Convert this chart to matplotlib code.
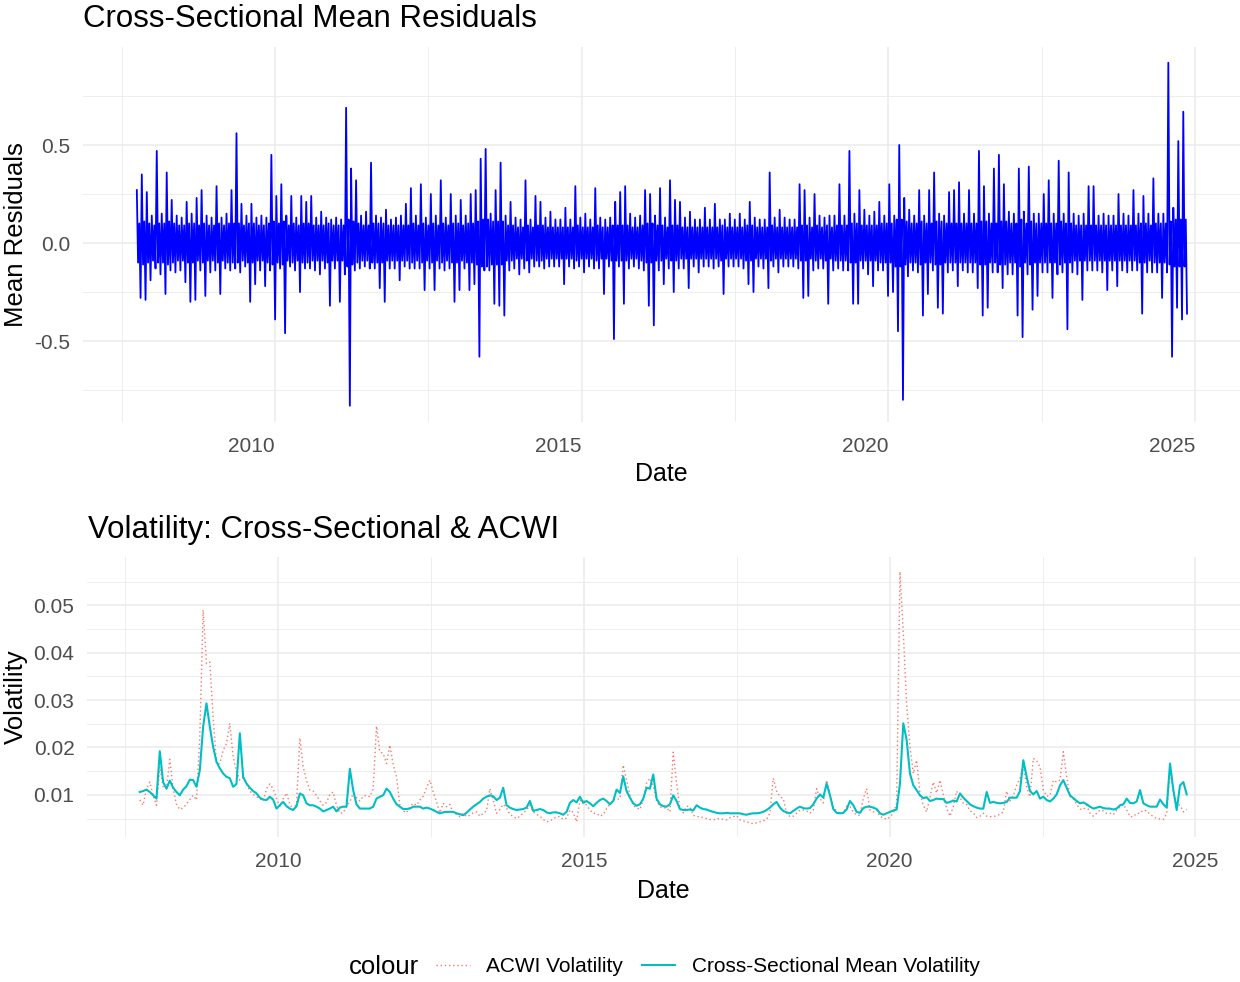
import matplotlib
matplotlib.use("Agg")
import matplotlib.pyplot as plt
import matplotlib.dates as mdates
from matplotlib.lines import Line2D
from matplotlib.ticker import FixedLocator
import numpy as np
import pandas as pd
import datetime as dt

plt.rcParams['font.family'] = ['Liberation Sans', 'DejaVu Sans']

# ---------------- data ----------------
# Cross-sectional mean residuals, read per ~5px column:
# high excursion, low excursion and half-width of the solid core band
resid_hi = [
    .27, .35, .26, .14, .47, .15, .36, .22, .14, .13,
    .21, .15, .23, .27, .14, .13, .29, .13, .15, .27,
    .56, .20, .14, .20, .13, .14, .13, .45, .24, .30,
    .14, .24, .13, .24, .21, .24, .13, .16, .13, .12,
    .13, .12, .69, .38, .32, .14, .16, .41, .14, .13,
    .17, .12, .13, .14, .20, .28, .14, .30, .13, .25,
    .14, .32, .13, .25, .14, .22, .14, .25, .27, .43,
    .48, .15, .27, .41, .14, .21, .13, .12, .32, .12,
    .24, .21, .13, .16, .12, .12, .18, .12, .29, .13,
    .15, .12, .28, .13, .12, .13, .21, .26, .29, .15,
    .13, .14, .27, .25, .14, .28, .13, .32, .22, .21,
    .13, .16, .12, .12, .18, .12, .20, .12, .12, .15,
    .12, .15, .12, .21, .13, .12, .12, .36, .13, .17,
    .13, .12, .12, .30, .27, .13, .25, .14, .13, .14,
    .14, .30, .14, .47, .15, .27, .17, .14, .16, .21,
    .14, .30, .14, .50, .23, .17, .14, .27, .14, .27,
    .36, .15, .14, .26, .27, .31, .15, .27, .15, .47,
    .29, .15, .38, .45, .30, .16, .15, .38, .16, .39,
    .15, .15, .25, .32, .15, .42, .15, .36, .15, .14,
    .15, .29, .29, .14, .15, .14, .14, .25, .15, .14,
    .27, .15, .24, .15, .33, .15, .15, .92, .18, .52,
    .67,
]
resid_lo = [
    -.28, -.29, -.19, -.13, -.16, -.26, -.14, -.15, -.14, -.20,
    -.30, -.29, -.14, -.27, -.15, -.14, -.26, -.13, -.14, -.13,
    -.15, -.12, -.30, -.21, -.14, -.22, -.14, -.39, -.13, -.46,
    -.12, -.14, -.25, -.13, -.13, -.14, -.16, -.13, -.32, -.13,
    -.30, -.16, -.83, -.14, -.13, -.12, -.13, -.13, -.23, -.30,
    -.13, -.13, -.19, -.12, -.13, -.13, -.13, -.24, -.13, -.24,
    -.13, -.14, -.13, -.30, -.24, -.13, -.24, -.21, -.58, -.14,
    -.14, -.31, -.32, -.37, -.14, -.13, -.16, -.13, -.15, -.12,
    -.12, -.13, -.12, -.12, -.12, -.21, -.12, -.13, -.12, -.15,
    -.12, -.13, -.13, -.26, -.12, -.49, -.12, -.31, -.13, -.12,
    -.13, -.14, -.32, -.42, -.14, -.21, -.13, -.25, -.13, -.13,
    -.23, -.12, -.15, -.12, -.12, -.13, -.12, -.26, -.12, -.12,
    -.12, -.13, -.21, -.25, -.12, -.13, -.23, -.12, -.15, -.12,
    -.12, -.12, -.13, -.28, -.27, -.14, -.13, -.13, -.31, -.14,
    -.13, -.14, -.14, -.31, -.31, -.13, -.16, -.22, -.14, -.14,
    -.27, -.25, -.45, -.80, -.17, -.14, -.15, -.37, -.26, -.14,
    -.33, -.36, -.15, -.14, -.22, -.14, -.15, -.15, -.23, -.37,
    -.33, -.15, -.15, -.23, -.16, -.16, -.37, -.48, -.16, -.34,
    -.27, -.15, -.15, -.28, -.16, -.15, -.44, -.15, -.16, -.29,
    -.14, -.14, -.14, -.15, -.24, -.14, -.22, -.14, -.15, -.14,
    -.14, -.36, -.15, -.15, -.15, -.28, -.15, -.58, -.33, -.39,
    -.36,
]
resid_core = [
    .10, .11, .10, .09, .10, .10, .11, .10, .09, .09,
    .10, .10, .09, .10, .09, .09, .10, .09, .10, .10,
    .10, .09, .10, .10, .09, .09, .10, .11, .10, .11,
    .09, .10, .09, .10, .10, .09, .09, .09, .10, .09,
    .09, .09, .12, .11, .10, .09, .09, .10, .10, .10,
    .09, .09, .09, .09, .09, .10, .09, .10, .09, .10,
    .09, .10, .09, .10, .10, .09, .10, .10, .11, .12,
    .12, .11, .11, .11, .09, .09, .08, .08, .09, .08,
    .09, .09, .08, .08, .08, .08, .08, .08, .09, .08,
    .08, .08, .09, .08, .08, .09, .09, .09, .09, .08,
    .08, .09, .10, .10, .09, .09, .08, .09, .09, .08,
    .08, .08, .08, .08, .08, .08, .08, .09, .08, .08,
    .08, .08, .09, .09, .08, .08, .08, .09, .08, .08,
    .08, .08, .08, .09, .09, .08, .09, .08, .09, .08,
    .09, .09, .09, .10, .10, .09, .09, .09, .09, .10,
    .10, .10, .12, .12, .11, .10, .10, .11, .10, .10,
    .11, .11, .10, .10, .10, .10, .10, .10, .10, .11,
    .11, .10, .10, .11, .11, .10, .10, .12, .10, .11,
    .10, .10, .10, .10, .10, .11, .10, .10, .09, .09,
    .09, .09, .09, .09, .09, .09, .09, .09, .09, .09,
    .09, .10, .10, .09, .10, .10, .10, .11, .12, .12,
    .12,
]
resid_start, resid_end = "2007-10-01", "2024-11-13"

# Volatility series (regular sampling)
cs_vol = [
    .0106, .0108, .0111, .0106, .0099, .0092, .0192, .0127, .0113, .0130,
    .0115, .0106, .0099, .0111, .0118, .0132, .0131, .0117, .0152, .0244,
    .0293, .0244, .0201, .0170, .0156, .0145, .0138, .0135, .0117, .0123,
    .0230, .0138, .0124, .0115, .0108, .0103, .0094, .0090, .0089, .0096,
    .0090, .0071, .0078, .0085, .0076, .0071, .0068, .0076, .0103, .0099,
    .0082, .0078, .0078, .0075, .0071, .0065, .0068, .0071, .0075, .0065,
    .0073, .0075, .0075, .0155, .0110, .0080, .0071, .0071, .0071, .0071,
    .0075, .0092, .0096, .0099, .0113, .0106, .0092, .0080, .0075, .0070,
    .0070, .0071, .0075, .0075, .0075, .0071, .0073, .0071, .0068, .0064,
    .0061, .0063, .0064, .0064, .0064, .0061, .0059, .0057, .0062, .0069,
    .0075, .0080,
    .0085, .0092, .0096, .0099, .0097, .0089, .0094, .0115, .0078, .0073,
    .0070, .0068, .0069, .0070, .0073, .0087, .0066, .0068, .0070, .0068,
    .0063, .0061, .0063, .0063, .0061, .0058, .0064, .0083, .0089, .0084,
    .0096, .0083, .0087, .0082, .0076, .0083, .0089, .0092, .0087, .0080,
    .0087, .0111, .0104, .0139, .0108, .0094, .0082, .0077, .0080, .0092,
    .0115, .0113, .0143, .0092, .0080, .0076, .0075, .0080, .0099, .0087,
    .0070, .0068, .0068, .0069, .0067, .0078, .0073, .0070, .0069, .0066,
    .0064, .0062, .0061, .0061, .0062, .0061, .0061, .0061, .0061, .0059,
    .0058, .0060, .0061, .0061, .0062, .0064, .0068, .0073, .0080, .0085,
    .0073, .0066, .0063, .0061, .0066, .0071, .0075, .0072, .0071, .0072,
    .0080, .0092, .0101, .0094, .0124, .0099, .0070, .0062, .0061, .0062,
    .0069, .0087, .0078, .0064,
    .0062, .0072, .0075, .0075, .0073, .0070, .0061, .0058, .0061, .0064,
    .0067, .0069, .0124, .0251, .0216, .0145, .0120, .0110, .0099, .0093,
    .0095, .0087, .0089, .0092, .0091, .0091, .0083, .0085, .0088, .0086,
    .0103, .0094, .0087, .0080, .0076, .0073, .0071, .0071, .0106, .0083,
    .0085, .0083, .0082, .0083, .0085, .0094, .0094, .0094, .0108, .0173,
    .0138, .0108, .0101, .0108, .0092, .0096, .0089, .0086, .0092, .0101,
    .0120, .0131, .0115, .0099, .0093, .0087, .0082, .0084, .0080, .0075,
    .0071, .0073, .0075, .0072, .0071, .0071, .0069, .0071, .0078, .0080,
    .0092, .0083, .0082, .0086, .0110, .0082, .0078, .0075, .0075, .0075,
    .0090, .0080, .0073, .0166, .0110, .0068, .0120, .0127, .0101,
]
acwi_vol = [
    .0089, .0078, .0113, .0127, .0099, .0078, .0159, .0117, .0113, .0175,
    .0113, .0080, .0069, .0073, .0080, .0090, .0099, .0089, .0223, .0490,
    .0377, .0380, .0265, .0166, .0166, .0194, .0208, .0251, .0180, .0149,
    .0131, .0136, .0123, .0108, .0101, .0096, .0092, .0087, .0113, .0123,
    .0113, .0092, .0076, .0092, .0104, .0080, .0069, .0082, .0220, .0159,
    .0131, .0110, .0108, .0099, .0087, .0078, .0084, .0101, .0106, .0078,
    .0061, .0062, .0076, .0085, .0103, .0094, .0087, .0097, .0099, .0096,
    .0113, .0245, .0191, .0187, .0166, .0205, .0163, .0138, .0078, .0066,
    .0062, .0075, .0082, .0078, .0089, .0097, .0115, .0131, .0106, .0085,
    .0062, .0082, .0075, .0080, .0061, .0059, .0054, .0061, .0054, .0057,
    .0062, .0064,
    .0055, .0061, .0066, .0113, .0089, .0061, .0069, .0080, .0072, .0059,
    .0054, .0050, .0055, .0061, .0068, .0078, .0064, .0059, .0055, .0048,
    .0043, .0045, .0049, .0054, .0054, .0048, .0051, .0068, .0063, .0043,
    .0087, .0090, .0078, .0068, .0061, .0061, .0055, .0058, .0071, .0080,
    .0090, .0090, .0092, .0163, .0131, .0099, .0077, .0073, .0069, .0089,
    .0125, .0135, .0120, .0087, .0075, .0072, .0073, .0064, .0190, .0124,
    .0071, .0062, .0076, .0075, .0057, .0054, .0054, .0052, .0050, .0048,
    .0047, .0049, .0050, .0048, .0047, .0052, .0054, .0056, .0047, .0045,
    .0043, .0041, .0039, .0041, .0043, .0045, .0048, .0062, .0135, .0108,
    .0096, .0092, .0061, .0054, .0055, .0061, .0068, .0068, .0066, .0061,
    .0068, .0113, .0092, .0083, .0131, .0103, .0073, .0066, .0061, .0061,
    .0076, .0075, .0064, .0057,
    .0057, .0092, .0113, .0068, .0064, .0068, .0054, .0052, .0048, .0054,
    .0061, .0082, .0571, .0441, .0293, .0201, .0145, .0173, .0103, .0078,
    .0064, .0096, .0127, .0104, .0131, .0099, .0071, .0055, .0075, .0108,
    .0094, .0082, .0080, .0066, .0062, .0052, .0055, .0061, .0055, .0054,
    .0054, .0056, .0059, .0064, .0108, .0087, .0097, .0120, .0135, .0161,
    .0117, .0096, .0177, .0172, .0159, .0110, .0097, .0099, .0131, .0127,
    .0131, .0191, .0138, .0096, .0092, .0080, .0070, .0069, .0078, .0061,
    .0055, .0061, .0068, .0066, .0061, .0061, .0058, .0068, .0075, .0080,
    .0068, .0054, .0054, .0061, .0061, .0068, .0066, .0059, .0054, .0050,
    .0049, .0048, .0061, .0152, .0106, .0080, .0078, .0064, .0069,
]
vol_start, vol_end = "2007-09-26", "2024-11-10"

year_breaks = [2010, 2015, 2020, 2025]
year_minor = [2007.5, 2012.5, 2017.5, 2022.5]
resid_breaks = [-0.5, 0.0, 0.5]
resid_minor = [-0.75, -0.25, 0.25, 0.75]
vol_breaks = [0.01, 0.02, 0.03, 0.04, 0.05]
vol_minor = [0.005, 0.015, 0.025, 0.035, 0.045, 0.055]
series_labels = ["ACWI Volatility", "Cross-Sectional Mean Volatility"]
series_colors = ["#F8766D", "#00BFC4"]


def dyear(y):
    yi = int(np.floor(y))
    start = dt.datetime(yi, 1, 1)
    end = dt.datetime(yi + 1, 1, 1)
    return start + (end - start) * (y - yi)


resid = []
for h, l, c in zip(resid_hi, resid_lo, resid_core):
    resid.extend([h, -c, c, l])
resid_dates = pd.date_range(resid_start, resid_end, periods=len(resid))
vol_dates = pd.date_range(vol_start, vol_end, periods=len(cs_vol))

# ---------------- figure ----------------
W, H = 1240, 982
fig = plt.figure(figsize=(W / 100, H / 100), dpi=100)
ax1 = fig.add_axes([83 / W, 1 - 422 / H, 1157 / W, 375 / H])
ax2 = fig.add_axes([87 / W, 1 - 837 / H, 1153 / W, 280 / H])

grid_col = "#EBEBEB"
tick_col = "#4D4D4D"

for ax in (ax1, ax2):
    for s in ax.spines.values():
        s.set_visible(False)
    ax.set_xlim(dyear(2006.87), dyear(2025.73))
    ax.xaxis.set_major_locator(FixedLocator([mdates.date2num(dyear(y)) for y in year_breaks]))
    ax.xaxis.set_minor_locator(FixedLocator([mdates.date2num(dyear(y)) for y in year_minor]))
    ax.set_xticklabels([str(y) for y in year_breaks])
    ax.grid(which="major", color=grid_col, linewidth=1.1, zorder=0)
    ax.grid(which="minor", color=grid_col, linewidth=0.6, zorder=0)
    ax.tick_params(which="both", length=0, labelsize=15, labelcolor=tick_col)
    ax.set_axisbelow(True)

# top panel
ax1.plot(resid_dates, resid, color="#0000FF", linewidth=1.3, zorder=3)
ax1.set_ylim(-0.913, 1.0)
ax1.yaxis.set_major_locator(FixedLocator(resid_breaks))
ax1.yaxis.set_minor_locator(FixedLocator(resid_minor))
ax1.set_yticklabels(["-0.5", "0.0", "0.5"])
ax1.tick_params(axis="y", pad=9)
ax1.tick_params(axis="x", pad=11)
for lab in ax1.get_xticklabels():
    lab.set_horizontalalignment("right")

# bottom panel
ax2.plot(vol_dates, acwi_vol, color=series_colors[0], linewidth=1.0,
         linestyle=(0, (1, 2)), zorder=3)
ax2.plot(vol_dates, cs_vol, color=series_colors[1], linewidth=1.5, zorder=4)
ax2.set_ylim(0.0011, 0.0602)
ax2.yaxis.set_major_locator(FixedLocator(vol_breaks))
ax2.yaxis.set_minor_locator(FixedLocator(vol_minor))
ax2.set_yticklabels(["0.01", "0.02", "0.03", "0.04", "0.05"])
ax2.tick_params(axis="y", pad=9)
ax2.tick_params(axis="x", pad=11)

# titles and axis labels
fig.text(83 / W, 1 - 19 / H, "Cross-Sectional Mean Residuals", fontsize=22.5,
         va="center", ha="left", color="black")
fig.text(88 / W, 1 - 530 / H, "Volatility: Cross-Sectional & ACWI", fontsize=22.5,
         va="center", ha="left", color="black")
fig.text(661 / W, 1 - 474 / H, "Date", fontsize=18, ha="center", va="center")
fig.text(663 / W, 1 - 891 / H, "Date", fontsize=18, ha="center", va="center")
fig.text(16 / W, 1 - 235 / H, "Mean Residuals", fontsize=18.5, rotation=90,
         ha="center", va="center")
fig.text(16 / W, 1 - 697 / H, "Volatility", fontsize=18.5, rotation=90,
         ha="center", va="center")

# legend
fig.text(349 / W, 1 - 967 / H, "colour", fontsize=18.5, ha="left", va="center")
handles = [
    Line2D([], [], color=series_colors[0], linewidth=1.0, linestyle=(0, (1, 2))),
    Line2D([], [], color=series_colors[1], linewidth=1.5),
]
fig.legend(handles, series_labels, ncol=2, loc="center",
           bbox_to_anchor=(708 / W, 1 - 967 / H), frameon=False, fontsize=15,
           handlelength=1.6, handletextpad=0.8, columnspacing=0.9,
           borderpad=0, borderaxespad=0)

fig.savefig("out.png", dpi=100)
